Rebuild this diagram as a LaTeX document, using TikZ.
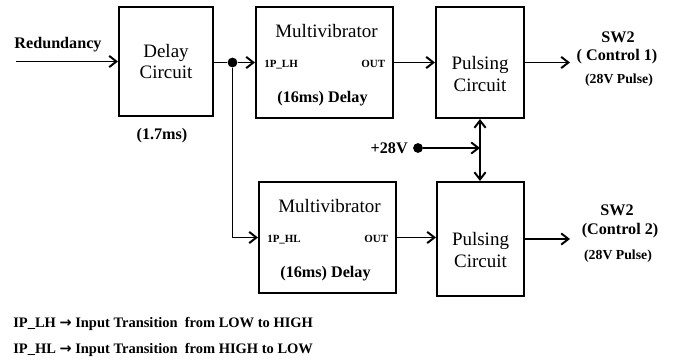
\documentclass[tikz,border=0pt]{standalone}
\usepackage{fontspec}
\setmainfont{Liberation Serif}
\newfontfamily\arrowfont{DejaVu Sans}
\usetikzlibrary{arrows.meta}

\begin{document}
\begin{tikzpicture}[x=0.025cm, y=-0.025cm,
    >={Straight Barb[length=1.8mm,width=2.8mm]},
    box/.style={draw, line width=1.4pt, inner sep=0pt},
    wire/.style={line width=1.4pt},
    boxtext/.style={font=\fontsize{13.5}{15.5}\selectfont, align=center, inner sep=0pt},
    lbl/.style={font=\bfseries\fontsize{11.5}{14}\selectfont, inner sep=0pt},
    small/.style={font=\bfseries\fontsize{9.8}{12}\selectfont, inner sep=0pt},
    port/.style={font=\bfseries\fontsize{7.8}{9}\selectfont, inner sep=0pt},
    legend/.style={font=\bfseries\fontsize{10.3}{12}\selectfont, inner sep=0pt, anchor=west},
    dot/.style={circle, fill, inner sep=0pt, minimum size=0.245cm}]

\useasboundingbox (0,0) rectangle (676,362);

% --- Input and delay ---
\coordinate (in) at (16,61.5);
\node[lbl] (redund) at (58,45) {Redundancy};
\node[box, minimum width=2.35cm, minimum height=2.725cm, boxtext] (delay) at (166,61.5) {Delay\\Circuit};
\node[lbl] (delaytime) at (162,136) {(1.7ms)};
\draw[wire, ->] (in) -- (delay.west);

\node[dot] (split) at (232.5,62.5) {};
\draw[wire] (delay.east |- split) -- (split);

% --- Multivibrators ---
\foreach \n/\x/\y/\ip in {T/324.5/62.5/1P\_LH,
                          B/327.5/237.5/1P\_HL} {
    \node[box, minimum width=3.425cm, minimum height=2.775cm] (mv\n) at (\x,\y) {};
    \node[boxtext] (mvname\n) at (\x+2,\y-31) {Multivibrator};
    \node[port, anchor=west] (mvin\n) at (\x-60.5,\y+2.5) {\ip};
    \node[port, anchor=east] (mvout\n) at (\x+61,\y+1) {OUT};
    \node[lbl] (mvdelay\n) at (\x-2,\y+36) {(16ms) Delay};
}

\draw[wire, ->] (split) -- (split -| mvT.west);
\draw[wire, ->] (split) |- (mvB.west);

% --- Pulsing circuits ---
\node[box, minimum width=2.2cm, minimum height=2.775cm] (pcT) at (480,62.5) {};
\node[boxtext] (pcnameT) at (480,74) {Pulsing\\Circuit};
\node[box, minimum width=2.175cm, minimum height=2.85cm] (pcB) at (480.5,239) {};
\node[boxtext] (pcnameB) at (480.5,250) {Pulsing\\Circuit};

\draw[wire, ->] (mvT.east) -- (mvT.east -| pcT.west);
\draw[wire, ->] (mvB.east) -- (mvB.east -| pcB.west);
\draw[wire, <->] (pcT.south) -- (pcT.south |- pcB.north);

% --- Supply ---
\node[dot] (v28) at (418,148) {};
\node[lbl, anchor=east] (v28name) at (408,148) {+28V};
\draw[wire, ->] (v28) -- (v28 -| pcT.south);

% --- Outputs ---
\coordinate (outT) at (570,62.5);
\coordinate (outB) at (570,239);
\draw[wire, ->] (pcT.east) -- (outT);
\draw[wire, ->] (pcB.east) -- (outB);

\node[lbl] (swT) at (618,37) {SW2};
\node[lbl] (ctlT) at (617,57) {( Control 1)};
\node[small] (pulseT) at (619,80) {(28V Pulse)};
\node[lbl] (swB) at (617,210) {SW2};
\node[lbl] (ctlB) at (620,231) {(Control 2)};
\node[small] (pulseB) at (618,256) {(28V Pulse)};

% --- Legend ---
\node[legend] (keyLH) at (13,324) {IP\_LH {\arrowfont\bfseries →} Input Transition\ \ from LOW to HIGH};
\node[legend] (keyHL) at (13,350) {IP\_HL {\arrowfont\bfseries →} Input Transition\ \ from HIGH to LOW};

\end{tikzpicture}
\end{document}
